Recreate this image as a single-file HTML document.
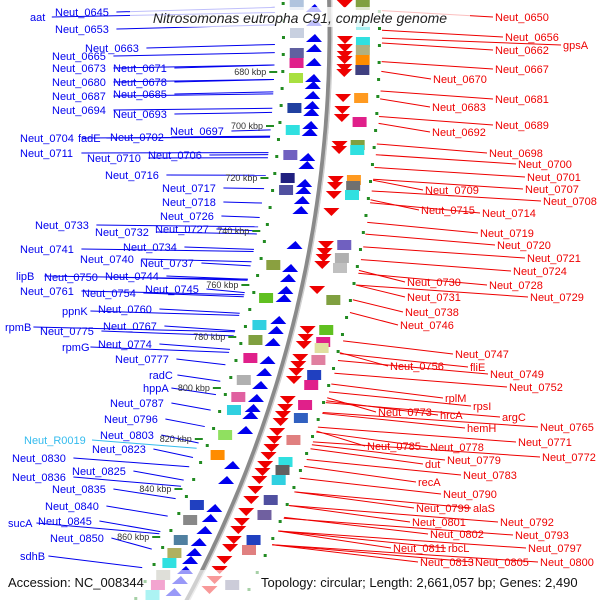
<!DOCTYPE html>
<html><head><meta charset="utf-8"><style>
body{margin:0;background:#fff}
svg{display:block;font-family:"Liberation Sans",sans-serif}
</style></head><body>
<svg id="map" width="600" height="600" viewBox="0 0 600 600">
<g id="lines"></g>
<g id="feat"></g>
<path id="backbone" fill="none" stroke="#8a8a8a" stroke-width="5"/>
<path id="backbone2" fill="none" stroke="#d0d0d0" stroke-width="1.5"/>
<g id="ticks"></g>
<g id="labels"></g>
<rect x="130" y="7" width="340" height="20" fill="#fff" opacity="0.75"/>
<text x="300" y="23" text-anchor="middle" font-size="14" font-style="italic" fill="#222">Nitrosomonas eutropha C91, complete genome</text>
<rect x="0" y="570" width="600" height="30" fill="#fff" opacity="0.6"/>
<text x="8" y="587" font-size="13" fill="#111">Accession: NC_008344</text>
<text x="261" y="587" font-size="13" fill="#111">Topology: circular; Length: 2,661,057 bp; Genes: 2,490</text>
</svg>
<script>
const leftNames=["aat","Neut_0645","Neut_0653","Neut_0663","Neut_0665","Neut_0673","Neut_0671","Neut_0680","Neut_0678","Neut_0685","Neut_0687","Neut_0694","Neut_0693","Neut_0697","Neut_0704","fadE","Neut_0702","Neut_0711","Neut_0710","Neut_0706","Neut_0716","Neut_0717","Neut_0718","Neut_0726","Neut_0727","Neut_0733","Neut_0732","Neut_0734","Neut_0741","Neut_0740","Neut_0737","lipB","Neut_0750","Neut_0744","Neut_0745","Neut_0761","Neut_0754","ppnK","Neut_0760","rpmB","Neut_0775","Neut_0767","rpmG","Neut_0774","Neut_0777","radC","hppA","Neut_0787","Neut_0796","Neut_0803","Neut_R0019","Neut_0823","Neut_0830","Neut_0825","Neut_0836","Neut_0835","Neut_0840","sucA","Neut_0845","Neut_0850","sdhB"];
const leftX=[30,55,55,85,52,52,113,52,113,113,52,52,113,170,20,78,110,20,87,148,105,162,162,160,155,35,95,123,20,80,140,16,44,105,145,20,82,62,98,5,40,103,62,98,115,149,143,110,104,100,24,92,12,72,12,52,45,8,38,50,20];
const leftY=[17,12,29,48,56,68,68,82,82,94,96,110,114,131,138,138,137,153,158,155,175,188,202,216,229,225,232,247,249,259,263,276,277,276,289,291,293,311,309,327,331,326,347,344,359,375,388,403,419,435,440,449,458,471,477,489,506,523,521,538,556];
const rightNames=["Neut_0650","Neut_0656","gpsA","Neut_0662","Neut_0667","Neut_0670","Neut_0681","Neut_0683","Neut_0689","Neut_0692","Neut_0698","Neut_0700","Neut_0701","Neut_0707","Neut_0709","Neut_0708","Neut_0715","Neut_0714","Neut_0719","Neut_0720","Neut_0721","Neut_0724","Neut_0730","Neut_0728","Neut_0729","Neut_0731","Neut_0738","Neut_0746","Neut_0747","Neut_0756","fliE","Neut_0749","Neut_0752","rplM","rpsI","argC","Neut_0773","hrcA","Neut_0765","hemH","Neut_0771","Neut_0785","Neut_0778","Neut_0772","dut","Neut_0779","Neut_0783","recA","Neut_0790","Neut_0799","alaS","Neut_0792","Neut_0801","Neut_0793","Neut_0802","Neut_0797","Neut_0811","rbcL","Neut_0805","Neut_0813","Neut_0800"];
const rightX=[495,505,563,495,495,433,495,432,495,432,489,518,527,525,425,543,421,482,480,497,527,513,407,489,530,407,405,400,455,390,470,490,509,445,473,502,378,440,540,467,518,367,430,542,425,447,463,418,443,416,473,500,412,515,430,528,393,448,475,420,540];
const rightY=[17,37,45,50,69,79,99,107,125,132,153,164,177,189,190,201,210,213,233,245,258,271,282,285,297,297,312,325,354,366,367,374,387,398,406,417,412,415,427,428,442,446,447,457,464,460,475,482,494,508,508,522,522,535,534,548,548,548,562,562,562];
const tickKbp=[680,700,720,740,760,780,800,820,840,860];
const tickY=[72,126,178,231,285,337,388,439,489,537];
const blueY=[8,22,38,48,62,78,85,95,105,112,125,132,157,165,183,190,200,210,245,268,278,290,298,320,330,342,360,372,385,398,408,415,430,465,480,508,518,530,542,552,560,570,580,592];
const redY=[4,40,48,55,60,68,73,98,110,118,145,150,180,186,195,212,245,252,258,265,290,330,338,345,358,365,372,380,400,408,415,422,432,440,448,456,465,472,480,490,500,512,522,530,540,548,560,570,580,590];
const boxL=[[5,"#b0c4de"],[33,"#c8d0e0"],[53,"#6060a0"],[63,"#e0208a"],[78,"#a8e040"],[108,"#2040a0"],[130,"#30e0e0"],[155,"#7060c0"],[178,"#202080"],[190,"#5050a0"],[265,"#8aa040"],[298,"#60c020"],[325,"#30d0e0"],[340,"#80a040"],[358,"#e0208a"],[380,"#b0b0b0"],[397,"#e060a0"],[410,"#30d0e0"],[435,"#90e060"],[455,"#ff8c00"],[505,"#2040c0"],[520,"#888"],[540,"#5080a0"],[553,"#b0b060"],[563,"#30e0e0"],[575,"#b0b0a0"],[585,"#e0208a"],[595,"#30e0e0"]];
const boxR=[[5,"#80a040"],[25,"#a0f0f0"],[42,"#30e0e0"],[50,"#b0b080"],[60,"#ff8c00"],[70,"#404080"],[98,"#ff9a20"],[122,"#e0208a"],[145,"#80a040"],[150,"#30e0e0"],[180,"#ff9a20"],[186,"#707070"],[195,"#30e0e0"],[245,"#7060c0"],[258,"#b0b0b0"],[268,"#c0c0c0"],[300,"#80a040"],[330,"#60c020"],[342,"#e0208a"],[348,"#e0e0a0"],[360,"#e080a0"],[375,"#2040c0"],[385,"#e0208a"],[405,"#e0208a"],[418,"#3060c0"],[440,"#e08080"],[462,"#30e0e0"],[470,"#606060"],[480,"#30d0e0"],[500,"#5050a0"],[515,"#7060a0"],[540,"#2040c0"],[550,"#e08080"],[585,"#8080a0"]];
const dotY=[];for(let y=2;y<600;y+=17)dotY.push(y);

const NS="http://www.w3.org/2000/svg";
const CX=-880,CY=30,R=1210;
function xAt(r,y){return CX+Math.sqrt(r*r-(y-CY)*(y-CY));}
function mk(t,a,p){const e=document.createElementNS(NS,t);for(const k in a)e.setAttribute(k,a[k]);p.appendChild(e);return e;}
function arcPath(r){let d="";for(let y=-5;y<=605;y+=5){d+=(y<0?"M":"L")+xAt(r,y).toFixed(1)+","+y;}return d;}
document.getElementById('backbone').setAttribute('d',arcPath(R));
document.getElementById('backbone2').setAttribute('d',arcPath(R+2));
const L=document.getElementById('lines'),F=document.getElementById('feat'),T=document.getElementById('ticks'),G=document.getElementById('labels');
function tw(s){return s.length*6.6;}
leftNames.forEach((n,i)=>{
  const x=leftX[i],y=leftY[i];
  const col=n==="Neut_R0019"?"#33bbee":"#0000ee";
  const t=mk('text',{x:x,y:y+4,'font-size':11,fill:col},G);t.textContent=n;
  
  
  const ty=y+4+(y-300)*0.03;
  const ln=mk('line',{x1:x+tw(n)+2,y1:y,x2:xAt(R-55,ty),y2:ty,stroke:col,'stroke-width':1},L);
  
  
});
rightNames.forEach((n,i)=>{
  const x=rightX[i],y=rightY[i];
  const t=mk('text',{x:x,y:y+4,'font-size':11,fill:"#ee0000"},G);t.textContent=n;
  
  
  const ty=y-6-(y)*0.02;
  const ln=mk('line',{x1:xAt(R+52,ty),y1:ty,x2:x-2,y2:y,stroke:"#ee0000",'stroke-width':1},L);
  
  
});
dotY.forEach(y=>{
  const a=mk('rect',{x:xAt(R-48,y),y:y,width:3,height:3,fill:"#228b22"},F);
  
  
  const b=mk('rect',{x:xAt(R+48,y+8),y:y+8,width:3,height:3,fill:"#228b22"},F);
  
  
});
blueY.forEach(y=>{
  const x=xAt(R-15,y);
  const p=mk('polygon',{points:`${x-9},${y+4} ${x+7},${y+4} ${x},${y-4}`,fill:"#0000ee"},F);
  
  
});
redY.forEach(y=>{
  const x=xAt(R+15,y);
  const p=mk('polygon',{points:`${x-8},${y-4} ${x+8},${y-4} ${x},${y+4}`,fill:"#ee0000"},F);
  
  
});
boxL.forEach(([y,c])=>{
  const r=mk('rect',{x:xAt(R-33,y)-7,y:y-5,width:14,height:10,fill:c},F);
  
  
});
boxR.forEach(([y,c])=>{
  const r=mk('rect',{x:xAt(R+33,y)-7,y:y-5,width:14,height:10,fill:c},F);
  
  
});
tickKbp.forEach((k,i)=>{
  const y=tickY[i],x=xAt(R-60,y);
  const m=mk('line',{x1:x,y1:y,x2:x+8,y2:y,stroke:"#228b22",'stroke-width':2},T);
  
  
  const t=mk('text',{x:x-3,y:y+3,'font-size':9,fill:"#333",'text-anchor':'end'},T);t.textContent=k+" kbp";
  
  
});
</script>
</body></html>
